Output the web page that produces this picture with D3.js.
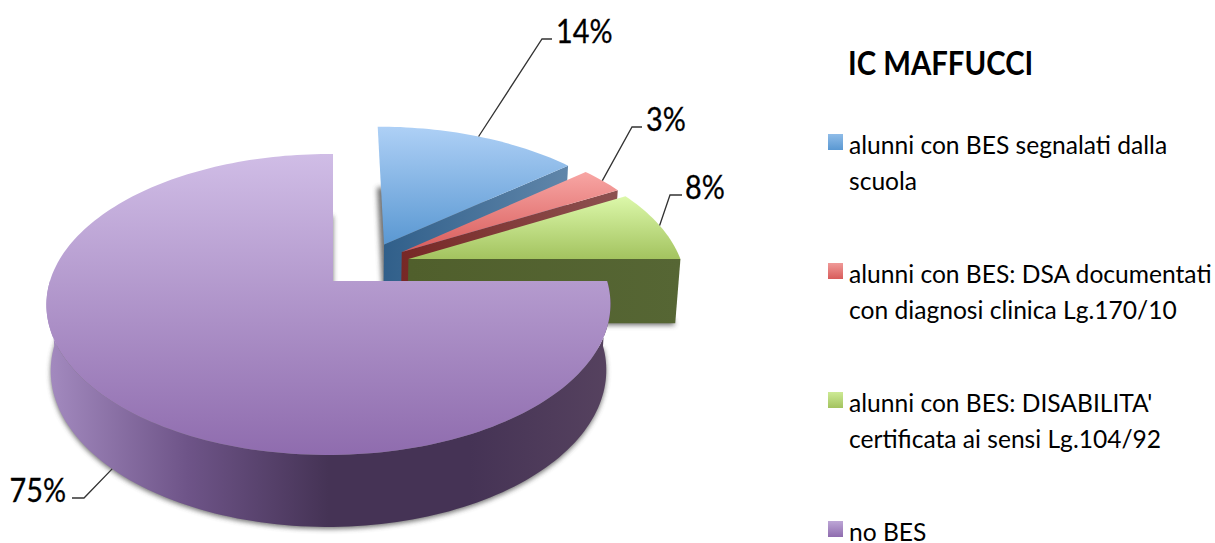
<!DOCTYPE html>
<html><head><meta charset="utf-8">
<script src="https://cdn.jsdelivr.net/npm/d3@7"></script>
<style>html,body{margin:0;padding:0;background:#fff}svg{display:block}text{font-family:Lato,"Noto Sans",sans-serif;fill:#000}</style>
</head><body><svg id="c" width="1215" height="543"></svg>
<script>
const title = "IC MAFFUCCI";
const categories = [
  ["alunni con BES segnalati dalla","scuola"],
  ["alunni con BES: DSA documentati","con diagnosi clinica Lg.170/10"],
  ["alunni con BES: DISABILITA'","certificata ai sensi Lg.104/92"],
  ["no BES"]
];
const values = [14,3,8,75];
const valueLabels = ["14%","3%","8%","75%"];

const topColors  = [["#aed0f6","#5a98d2"],["#f8a6a4","#d85c5b"],["#dcf8aa","#a3c35f"],["#d0bde6","#8f6cae"]];
const sideColors = [["#2f5e89","#6086aa"],["#772826","#8d5150"],["#505f2c","#566634"],["#a48bc0","#6e5488","#453355","#453355","#56425f"]];
const legendColors=[["#8fbce8","#5a98d2"],["#f09a98","#d85c5b"],["#cdea95","#a3c35f"],["#bda6d6","#8f6cae"]];
// label layout: elbow point, elbow end, text x, baseline
const leaderLayout = [
  {e:[542,39], f:[552,39], tx:556, ty:43, anchor:"start"},
  {e:[632,127],f:[642,127],tx:646, ty:131,anchor:"start"},
  {e:[670,195],f:[682,195],tx:685, ty:199,anchor:"start"},
  {e:[84,498], f:[72,498], tx:66,  ty:502,anchor:"end"}
];

const svg = d3.select("#c");
const defs = svg.append("defs");
const cx=333, cy=281, R=278.5, A=146.8, B=0.156, explode=0.16;
const lastIndex = values.length-1;
const leanOf = i=> i===lastIndex ? 0.016 : 0;     // horizontal perspective of the near slice
const shiftOf = i=> i===lastIndex ? 0 : 2.5;      // sideways nudge of the three far slices

const project = (u,v,i)=>{const w=1-B*v+leanOf(i)*u; return [cx+shiftOf(i)+u*R/w, cy+A*v/w];};
const lower = ([x,y])=>[cx+(x-cx)*0.985, cy+(y-cy)*1.04+65];

const slices = d3.pie().sort(null)(values);
const mid = d=>(d.startAngle+d.endAngle)/2;
const refMid = mid(slices[lastIndex]);
const origin = d=>[explode*(Math.sin(mid(d))-Math.sin(refMid)), -explode*(Math.cos(mid(d))-Math.cos(refMid))];
const rim = (d,a)=>{const o=origin(d); return project(o[0]+Math.sin(a), o[1]-Math.cos(a), d.index);};
const apex = d=>{const o=origin(d); return project(o[0],o[1],d.index);};
const arcAngles = d=>{const n=Math.ceil((d.endAngle-d.startAngle)*40);return d3.range(n+1).map(i=>d.startAngle+(d.endAngle-d.startAngle)*i/n);};
const line = d3.line();
const poly = pts=>line(pts)+"Z";

function grad(id,colors,x1,y1,x2,y2){
  const g=defs.append("linearGradient").attr("id",id).attr("gradientUnits","userSpaceOnUse")
    .attr("x1",x1).attr("y1",y1).attr("x2",x2).attr("y2",y2);
  colors.forEach((c,i)=>g.append("stop").attr("offset",i/(colors.length-1)).attr("stop-color",c));
}
defs.append("filter").attr("id","sh").attr("x","-10%").attr("y","-10%").attr("width","120%").attr("height","120%")
  .append("feGaussianBlur").attr("stdDeviation",2.5);

slices.forEach((d,i)=>{
  const angles=arcAngles(d);
  const pts=angles.map(a=>rim(d,a)), ap=apex(d), all=[ap,...pts];
  const xs=all.map(p=>p[0]), ys=all.map(p=>p[1]);
  grad("top"+i,topColors[i],0,d3.min(ys),0,d3.max(ys));
  grad("side"+i,sideColors[i],d3.min(xs),0,d3.max(xs),0);
  const g=svg.append("g");
  // soft shadow under the extruded body
  g.append("path").attr("d",poly(all.map(lower).map(p=>[p[0],p[1]+2]))).attr("fill","#444").attr("opacity",0.75).attr("filter","url(#sh)");
  // outer wall: only the part of the rim that faces the viewer
  const front=angles.filter(a=>Math.cos(a)<=0).map(a=>rim(d,a));
  if(front.length>1) g.append("path").attr("d",poly([...front,...front.map(lower).reverse()])).attr("fill",`url(#side${i})`);
  // radial wall at the clockwise end of the slice
  const p=pts[pts.length-1];
  g.append("path").attr("d",poly([ap,p,lower(p),lower(ap)])).attr("fill",`url(#side${i})`);
  // top face
  g.append("path").attr("d",poly(all)).attr("fill",`url(#top${i})`);
});

// condense a text element horizontally to a fraction of its natural width
const condense=(sel,f)=>sel.attr("textLength",sel.node().getComputedTextLength()*f).attr("lengthAdjust","spacingAndGlyphs");

// leaders and value labels
slices.forEach((d,i)=>{
  const L=leaderLayout[i];
  const a = i===lastIndex ? lower(rim(d,mid(d))) : rim(d,mid(d));
  svg.append("path").attr("d",line([a,L.e,L.f])).attr("fill","none").attr("stroke","#333").attr("stroke-width",1.3);
  const t=svg.append("text").attr("x",L.tx).attr("y",L.ty).attr("text-anchor",L.anchor)
    .attr("font-size",32).attr("stroke","#000").attr("stroke-width",0.3).text(valueLabels[i]);
  condense(t,0.9);
});

// title + legend
condense(svg.append("text").attr("x",848).attr("y",75).attr("font-size",32).attr("font-weight",700).text(title),0.916);
const legendY=d3.scaleLinear().domain([0,1]).range([154,283]);
const lineStep=36;
categories.forEach((c,i)=>{
  const y=legendY(i);
  grad("leg"+i,legendColors[i],0,y-20,0,y-4);
  svg.append("rect").attr("x",828).attr("y",y-20).attr("width",15).attr("height",16).attr("fill",`url(#leg${i})`);
  c.forEach((t,j)=>svg.append("text").attr("x",849).attr("y",y+j*lineStep).attr("font-size",24.6).text(t));
});
</script></body></html>
